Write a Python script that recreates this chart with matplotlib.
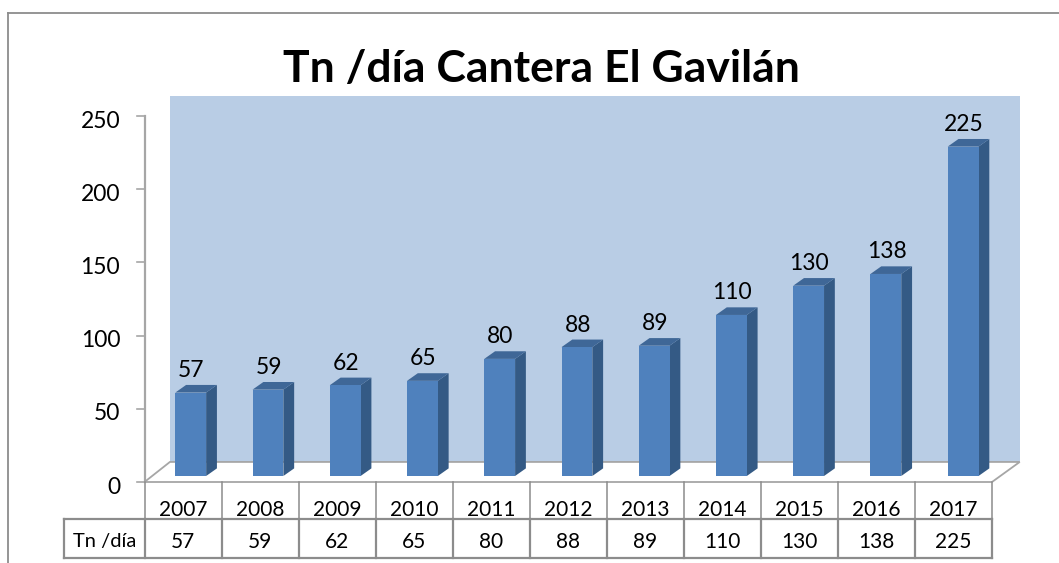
# Tn /día Cantera El Gavilán - columnas "3D" con tabla de datos
import matplotlib
matplotlib.use("Agg")
import matplotlib.pyplot as plt
from matplotlib.lines import Line2D
from matplotlib.patches import Polygon

# -------------------- DATOS --------------------
anios = ["2007", "2008", "2009", "2010", "2011", "2012", "2013", "2014", "2015", "2016", "2017"]
valores = [57, 59, 62, 65, 80, 88, 89, 110, 130, 138, 225]
yticks = [0, 50, 100, 150, 200, 250]
serie = "Tn /día"
titulo = "Tn /día Cantera El Gavilán"

# -------------------- ESTILO --------------------
W, H = 1059, 563
plt.rcParams["font.family"] = ["Lato", "DejaVu Sans"]
GRIS = "#8C8C8C"
PARED = "#B9CDE5"
FRENTE = "#4F81BD"
LADO = "#345A85"
TECHO = "#3F6797"

fig = plt.figure(figsize=(W / 100, H / 100), dpi=100, facecolor="white")
ax = fig.add_axes([144.5 / W, (H - 482) / H, (992 - 144.5) / W, 366 / H])
ax.set_xlim(0, len(anios))
ax.set_ylim(0, 250)
ax.axis("off")

# marco de la imagen (sin borde derecho ni inferior)
fig.add_artist(Line2D([8 / W, 8 / W], [0, 1 - 13 / H], color=GRIS, lw=1.3))
fig.add_artist(Line2D([8 / W, 1], [1 - 13 / H, 1 - 13 / H], color=GRIS, lw=1.3))

# pared del fondo y piso
prof_x, prof_y = 0.33, 13.7
x_fin = len(anios) + prof_x
ax.add_patch(Polygon([(prof_x, prof_y), (x_fin + 0.03, prof_y), (x_fin + 0.03, 263.7), (prof_x, 263.7)],
                     closed=True, fc=PARED, ec="none", clip_on=False, zorder=1))
ax.add_patch(Polygon([(0, 0), (prof_x, prof_y), (x_fin + 0.03, prof_y), (len(anios), 0)],
                     closed=True, fc="white", ec="#A6A6A6", lw=1.3, clip_on=False, zorder=2))

# columnas
base = 4.1
ancho = 0.40
dx, dy = 0.14, 5.2
for i, v in enumerate(valores):
    xc = i * 1.0025 + 0.6
    x0, x1 = xc - ancho / 2, xc + ancho / 2
    tope = base + v
    ax.bar(xc, v, width=ancho, bottom=base, color=FRENTE, zorder=4, clip_on=False)
    ax.add_patch(Polygon([(x1, base), (x1 + dx, base + dy), (x1 + dx, tope + dy), (x1, tope)],
                         closed=True, fc=LADO, ec="none", zorder=3, clip_on=False))
    ax.add_patch(Polygon([(x0, tope), (x0 + dx, tope + dy), (x1 + dx, tope + dy), (x1, tope)],
                         closed=True, fc=TECHO, ec="none", zorder=3, clip_on=False))
    ax.text(xc + 0.01, tope + dy + 5.5, str(v), ha="center", va="baseline", fontsize=16.5, color="black", zorder=5)

# eje y
ax.plot([0, 0], [0, 250], color="#A6A6A6", lw=1.6, clip_on=False, zorder=3)
for t in yticks:
    ax.plot([-0.095, 0], [t, t], color="#A6A6A6", lw=1.2, clip_on=False, zorder=3)
    ax.text(-0.315, t - 3.5, str(t), ha="right", va="center", fontsize=16.5, color="black")

# tabla de datos
fila1, fila2 = -25.3, -52
x_rot = -1.045
n = len(anios)
for i in range(n + 1):
    ax.plot([i, i], [0, fila1], color=GRIS, lw=1.1, clip_on=False, zorder=3)
    ax.plot([i, i], [fila1, fila2], color=GRIS, lw=1.6, clip_on=False, zorder=3)
ax.plot([x_rot, x_rot], [fila1, fila2], color=GRIS, lw=1.6, clip_on=False, zorder=3)
ax.plot([x_rot, n], [fila1, fila1], color=GRIS, lw=1.6, clip_on=False, zorder=3)
ax.plot([x_rot, n], [fila2, fila2], color=GRIS, lw=1.6, clip_on=False, zorder=3)
for i, (a, v) in enumerate(zip(anios, valores)):
    ax.text(i + 0.5, fila1 + 2.2, a, ha="center", va="baseline", fontsize=15, color="black")
    ax.text(i + 0.5, (fila1 + fila2) / 2 - 2, str(v), ha="center", va="center", fontsize=15, color="black")
ax.text((x_rot + 0) / 2, (fila1 + fila2) / 2 - 2, serie, ha="center", va="center", fontsize=14.5, color="black")

# titulo
fig.text(541 / W, 1 - 82 / H, titulo, ha="center", va="baseline", fontsize=32, fontweight="bold", color="black")

fig.savefig("out.png", dpi=100)
